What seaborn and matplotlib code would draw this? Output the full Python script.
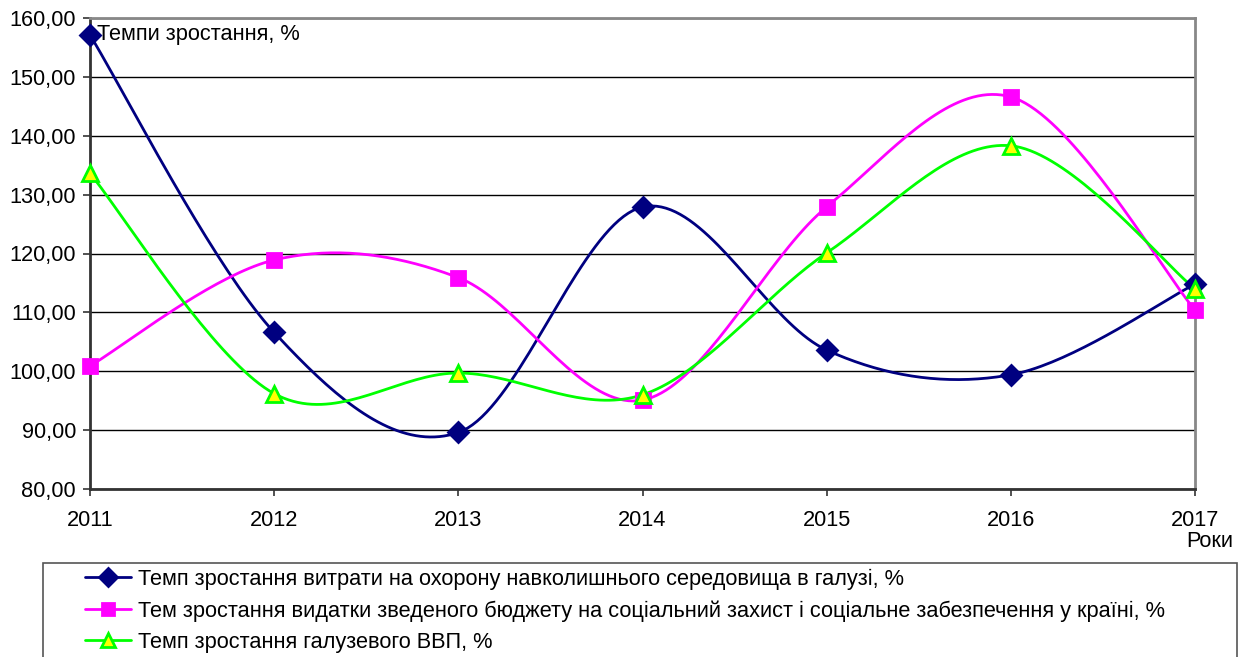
import numpy as np
import pandas as pd
import matplotlib
matplotlib.use("Agg")
import matplotlib.pyplot as plt
import seaborn as sns
from matplotlib.lines import Line2D
from matplotlib.patches import Rectangle
from matplotlib.ticker import FuncFormatter, MultipleLocator

years = [2011, 2012, 2013, 2014, 2015, 2016, 2017]
env_costs = [157.1, 106.6, 89.6, 127.9, 103.6, 99.4, 114.8]
social_budget = [100.9, 118.9, 115.9, 95.1, 127.9, 146.6, 110.4]
industry_gdp = [133.6, 96.2, 99.7, 96.0, 120.1, 138.3, 114.0]

labels = [
    "Темп зростання витрати на охорону навколишнього середовища в галузі, %",
    "Тем зростання видатки зведеного бюджету на соціальний захист і соціальне забезпечення у країні, %",
    "Темп зростання галузевого ВВП, %",
]
y_title = "Темпи зростання, %"
x_title = "Роки"

sns.set_theme(style="white")
plt.rcParams["font.family"] = ["Liberation Sans", "DejaVu Sans"]
plt.rcParams["text.color"] = "black"

FS = 15.7


def excel_smooth(xs, ys, n=40):
    xs = np.asarray(xs, float)
    ys = np.asarray(ys, float)
    P = np.column_stack([xs, ys])
    ext = np.vstack([P[0], P, P[-1]])
    out = []
    t = np.linspace(0, 1, n)[:, None]
    for i in range(len(P) - 1):
        p0 = ext[i + 1]
        p3 = ext[i + 2]
        c1 = p0 + (ext[i + 2] - ext[i]) / 6.0
        c2 = p3 - (ext[i + 3] - ext[i + 1]) / 6.0
        seg = ((1 - t) ** 3) * p0 + 3 * ((1 - t) ** 2) * t * c1 + 3 * (1 - t) * t ** 2 * c2 + t ** 3 * p3
        out.append(seg if i == 0 else seg[1:])
    arr = np.vstack(out)
    return arr[:, 0], arr[:, 1]


fig = plt.figure(figsize=(12.45, 6.57), dpi=100)
ax = fig.add_axes([90 / 1245, 1 - 489 / 657, 1105 / 1245, 471 / 657])

series = [
    (env_costs, "#000080", "D", "#000080", "#000080", 10),
    (social_budget, "#FF00FF", "s", "#FF00FF", "#FF00FF", 10),
    (industry_gdp, "#00FF00", "^", "#FFFF00", "#00FF00", 11.5),
]

handles = []
for (vals, col, mk, fc, ec, ms), lab in zip(series, labels):
    sx, sy = excel_smooth(years, vals)
    df = pd.DataFrame({"x": sx, "y": sy})
    sns.lineplot(data=df, x="x", y="y", ax=ax, color=col, linewidth=2, sort=False,
                 estimator=None, legend=False, zorder=3)
    ax.plot(years, vals, linestyle="none", marker=mk, markersize=ms,
            markerfacecolor=fc, markeredgecolor=ec, markeredgewidth=2, zorder=5, clip_on=False)
    handles.append(Line2D([0], [0], color=col, linewidth=2, marker=mk, markersize=ms - 1,
                          markerfacecolor=fc, markeredgecolor=ec, markeredgewidth=2))

ax.set_xlim(2011, 2017)
ax.set_ylim(80, 160)
ax.set_xticks(years)
ax.set_xticklabels([str(y) for y in years])
ax.yaxis.set_major_locator(MultipleLocator(10))
ax.yaxis.set_major_formatter(FuncFormatter(lambda v, p: f"{v:.2f}".replace(".", ",")))
ax.grid(axis="y", color="black", linewidth=1)
ax.grid(axis="x", visible=False)
ax.set_xlabel("")
ax.set_ylabel("")
ax.tick_params(axis="both", direction="out", length=5, width=1.2, color="#333333",
               labelsize=FS, labelcolor="black")
ax.tick_params(axis="x", pad=10, bottom=True)
ax.tick_params(axis="y", pad=5, left=True)

for side in ["left", "bottom"]:
    ax.spines[side].set_color("#333333")
    ax.spines[side].set_linewidth(2)
for side in ["right", "top"]:
    ax.spines[side].set_color("#888888")
    ax.spines[side].set_linewidth(2)
    ax.spines[side].set_visible(True)

ax.text(0.006, 0.964, y_title, transform=ax.transAxes, fontsize=FS, va="center", ha="left")
ax.text(1.0136, -0.112, x_title, transform=ax.transAxes, fontsize=FS, va="center", ha="center")

fig.patches.append(Rectangle((43 / 1245, -0.05), (1237 - 43) / 1245, (1 - 563 / 657) + 0.05,
                             transform=fig.transFigure, fill=False, edgecolor="#555555",
                             linewidth=1.2))
leg = fig.legend(handles=handles, labels=labels, loc="upper left",
                 bbox_to_anchor=(85 / 1245, 1 - 569 / 657), frameon=False,
                 fontsize=FS, handlelength=2.1, handletextpad=0.35, labelspacing=0.46,
                 borderpad=0.0, borderaxespad=0.0, numpoints=1)

fig.savefig("out.png", dpi=100)
